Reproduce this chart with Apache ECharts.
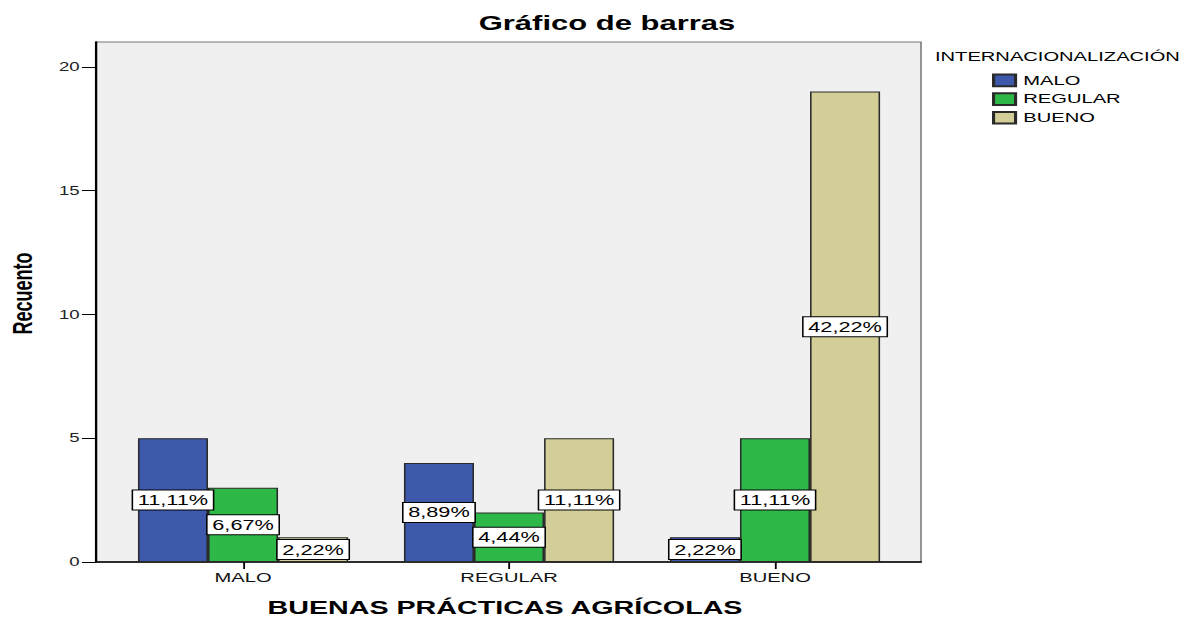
<!DOCTYPE html>
<html>
<head>
<meta charset="utf-8">
<script src="https://cdn.jsdelivr.net/npm/echarts@6/dist/echarts.min.js"></script>
<style>
  html, body { margin: 0; padding: 0; background: #ffffff; overflow: hidden; }
  #chart { width: 764px; height: 618px; transform: scaleX(1.55); transform-origin: 0 0; }
</style>
</head>
<body>
<div id="chart"></div>
<script>
// ---- data ----
var categories = ['MALO', 'REGULAR', 'BUENO'];          // BUENAS PRÁCTICAS AGRÍCOLAS
var seriesNames = ['MALO', 'REGULAR', 'BUENO'];         // INTERNACIONALIZACIÓN
var countsMalo = [5, 4, 1];
var countsRegular = [3, 2, 5];
var countsBueno = [1, 5, 19];
var yTicks = [0, 5, 10, 15, 20];
var colors = ['#3e58ac', '#2eb848', '#d3ce97'];

var allSeries = [countsMalo, countsRegular, countsBueno];
var total = 0;
allSeries.forEach(function (arr) { arr.forEach(function (v) { total += v; }); });

var FONT = "'Liberation Sans', Arial, Helvetica, sans-serif";

var chart = echarts.init(document.getElementById('chart'), null, { renderer: 'svg', width: 764, height: 618 });

var series = allSeries.map(function (arr, i) {
  return {
    name: seriesNames[i],
    type: 'bar',
    xAxisIndex: 1,
    yAxisIndex: 1,
    data: arr,
    barWidth: 45.2,
    barGap: '0%',
    itemStyle: { color: colors[i], borderColor: '#2a2a2a', borderWidth: 1 },
    label: {
      show: true,
      position: 'inside',
      formatter: function (p) { return (p.value / total * 100).toFixed(2).replace('.', ',') + '%'; },
      fontFamily: FONT,
      fontSize: 14,
      color: '#000',
      backgroundColor: '#ffffff',
      borderColor: '#000',
      borderWidth: 1,
      padding: [3, 3, 2, 3]
    },
    emphasis: { disabled: true }
  };
});

var option = {
  animation: false,
  backgroundColor: '#ffffff',
  textStyle: { fontFamily: FONT },
  grid: [
    { left: 61.9, right: 169.8, top: 42, bottom: 56, show: true, backgroundColor: '#f0f0f0', borderColor: '#777', borderWidth: 1 },
    { left: 71.0, right: 178.2, top: 42, bottom: 56 }
  ],
  xAxis: [
    { gridIndex: 0, type: 'value', min: 0, max: 1, axisLine: { show: true, lineStyle: { color: '#000', width: 1.5 } }, axisTick: { show: false }, axisLabel: { show: false }, splitLine: { show: false } },
    { gridIndex: 1, type: 'category', data: categories, axisLine: { show: false },
      axisTick: { show: true, alignWithLabel: true, length: 7, lineStyle: { color: '#000', width: 1.2 } },
      axisLabel: { fontFamily: FONT, fontSize: 13, color: '#111', margin: 9 } }
  ],
  yAxis: [
    { gridIndex: 0, type: 'value', min: 0, max: 21,
      axisLine: { show: true, lineStyle: { color: '#000', width: 1.5 } },
      axisTick: { show: true, length: 9, customValues: yTicks, lineStyle: { color: '#000', width: 1 } },
      axisLabel: { customValues: yTicks, fontFamily: FONT, fontSize: 12, color: '#222', margin: 10.5 },
      splitLine: { show: false } },
    { gridIndex: 1, type: 'value', min: 0, max: 21, show: false, splitLine: { show: false } }
  ],
  legend: {
    orient: 'vertical',
    left: 640,
    top: 73.5,
    padding: 0,
    itemWidth: 14.2,
    itemHeight: 11.7,
    itemGap: 5,
    icon: 'rect',
    data: seriesNames,
    textStyle: { fontFamily: FONT, fontSize: 13, color: '#000', lineHeight: 13 },
    selectedMode: false
  },
  graphic: [
    { type: 'text', x: 391.6, y: 23, style: { text: 'Gráfico de barras', font: 'bold 20px ' + FONT, fill: '#000', textAlign: 'center', textVerticalAlign: 'middle' } },
    { type: 'text', x: 603.2, y: 57, style: { text: 'INTERNACIONALIZACIÓN', font: '13px ' + FONT, fill: '#000', textAlign: 'left', textVerticalAlign: 'middle' } },
    { type: 'text', x: 325.8, y: 607, style: { text: 'BUENAS PRÁCTICAS AGRÍCOLAS', font: 'bold 18.5px ' + FONT, fill: '#000', textAlign: 'center', textVerticalAlign: 'middle' } },
    { type: 'text', x: 14.5, y: 293.5, rotation: Math.PI / 2, style: { text: 'Recuento', font: 'bold 18px ' + FONT, fill: '#000', textAlign: 'center', textVerticalAlign: 'middle' } }
  ],
  series: series
};

chart.setOption(option);
</script>
</body>
</html>
